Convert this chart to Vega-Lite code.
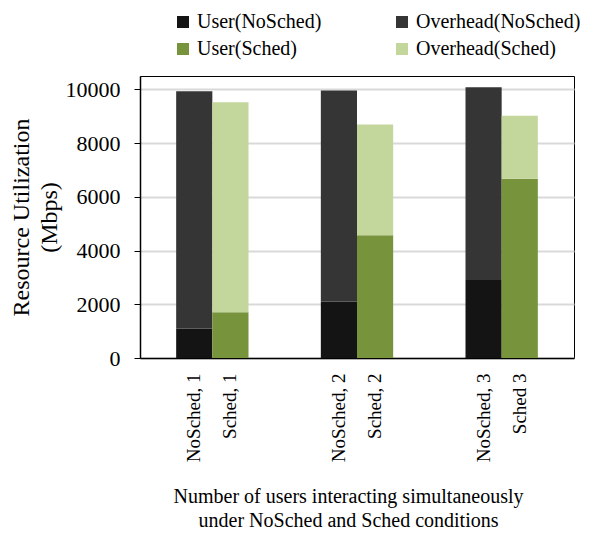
{
  "$schema": "https://vega.github.io/schema/vega-lite/v6.json",
  "width": 434,
  "height": 282,
  "autosize": {"type": "none"},
  "padding": {"left": 140, "top": 76, "right": 16, "bottom": 175},
  "background": "white",
  "config": {
    "font": "Liberation Serif",
    "view": {"stroke": "#000", "strokeWidth": 1}
  },
  "data": {
    "values": [
      {"bar": "NoSched, 1", "part": "User", "series": "User(NoSched)", "value": 1100},
      {"bar": "NoSched, 1", "part": "Overhead", "series": "Overhead(NoSched)", "value": 8830},
      {"bar": "Sched, 1", "part": "User", "series": "User(Sched)", "value": 1700},
      {"bar": "Sched, 1", "part": "Overhead", "series": "Overhead(Sched)", "value": 7820},
      {"bar": "NoSched, 2", "part": "User", "series": "User(NoSched)", "value": 2100},
      {"bar": "NoSched, 2", "part": "Overhead", "series": "Overhead(NoSched)", "value": 7860},
      {"bar": "Sched, 2", "part": "User", "series": "User(Sched)", "value": 4570},
      {"bar": "Sched, 2", "part": "Overhead", "series": "Overhead(Sched)", "value": 4120},
      {"bar": "NoSched, 3", "part": "User", "series": "User(NoSched)", "value": 2900},
      {"bar": "NoSched, 3", "part": "Overhead", "series": "Overhead(NoSched)", "value": 7180},
      {"bar": "Sched 3", "part": "User", "series": "User(Sched)", "value": 6670},
      {"bar": "Sched 3", "part": "Overhead", "series": "Overhead(Sched)", "value": 2350}
    ]
  },
  "mark": {"type": "bar"},
  "encoding": {
    "x": {
      "field": "bar",
      "type": "nominal",
      "scale": {
        "domain": ["_0", "NoSched, 1", "Sched, 1", "_1", "_2", "NoSched, 2", "Sched, 2", "_3", "_4", "NoSched, 3", "Sched 3", "_5"],
        "paddingInner": 0,
        "paddingOuter": 0
      },
      "axis": {
        "labelExpr": "indexof(datum.value, '_') == 0 ? '' : datum.label",
        "labelAngle": 270,
        "labelFontSize": 19,
        "labelColor": "#000",
        "labelPadding": 15,
        "ticks": false,
        "tickSize": 0,
        "domainColor": "#000",
        "domainWidth": 1.5,
        "title": ["Number of users interacting simultaneously", "under NoSched and Sched conditions"],
        "titleFontSize": 20,
        "titleFontWeight": "normal",
        "titleColor": "#000",
        "titleLineHeight": 24,
        "titlePadding": 25,
        "titleX": 208
      }
    },
    "y": {
      "field": "value",
      "type": "quantitative",
      "stack": "zero",
      "scale": {"domain": [0, 10500], "nice": false},
      "axis": {
        "values": [0, 2000, 4000, 6000, 8000, 10000],
        "format": "d",
        "grid": true,
        "gridColor": "#d9d9d9",
        "gridWidth": 2,
        "tickSize": 6,
        "tickColor": "#000",
        "domainColor": "#000",
        "domainWidth": 1.5,
        "labelFontSize": 22,
        "labelColor": "#000",
        "labelPadding": 14,
        "title": ["Resource Utilization", "(Mbps)"],
        "titleFontSize": 24,
        "titleFontWeight": "normal",
        "titleColor": "#000",
        "titleLineHeight": 28,
        "titlePadding": 4
      }
    },
    "color": {
      "field": "series",
      "type": "nominal",
      "scale": {
        "domain": ["User(NoSched)", "User(Sched)", "Overhead(NoSched)", "Overhead(Sched)"],
        "range": ["#141414", "#77933C", "#353535", "#C3D69B"]
      },
      "legend": {
        "title": null,
        "orient": "none",
        "legendX": 33,
        "legendY": -64,
        "columns": 2,
        "columnPadding": 70,
        "rowPadding": 7,
        "symbolType": "square",
        "symbolSize": 144,
        "symbolStrokeWidth": 0,
        "labelFontSize": 20,
        "labelColor": "#000",
        "labelOffset": 4,
        "labelLimit": 300
      }
    },
    "order": {"field": "part", "sort": "descending"}
  }
}
